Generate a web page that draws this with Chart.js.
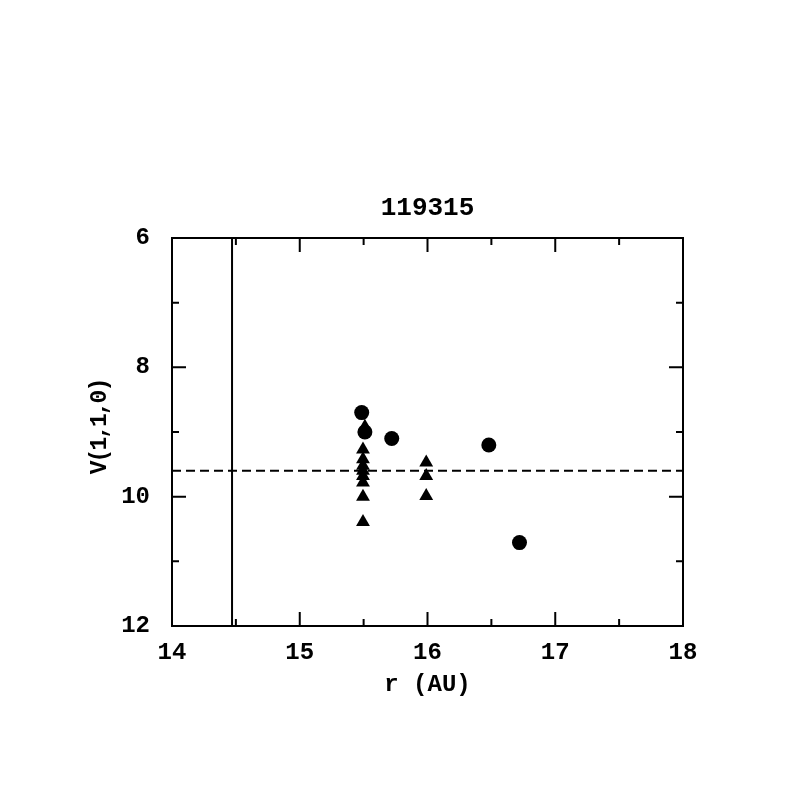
<!DOCTYPE html>
<html lang="en">
<head>
<meta charset="UTF-8">
<title>119315</title>
<script src="https://cdn.jsdelivr.net/npm/chart.js@4.4.0/dist/chart.umd.min.js"></script>
<style>
    body { margin: 0; background: #fff; }
    #wrap { width: 797px; height: 797px; }
</style>
</head>
<body>
<div id="wrap"><canvas id="plot" width="797" height="797"></canvas></div>
<script>
    const titleText = '119315';
    const xLabel = 'r (AU)';
    const yLabel = 'V(1,1,0)';

    // filled circles
    const circleX = [15.485, 15.51, 15.72, 16.48, 16.72];
    const circleY = [8.70, 9.00, 9.10, 9.20, 10.71];

    // filled triangles
    const triX = [15.51, 15.495, 15.495, 15.495, 15.495, 15.495, 15.495, 15.495, 15.495, 15.99, 15.99, 15.99];
    const triY = [8.92, 9.27, 9.42, 9.52, 9.60, 9.68, 9.78, 10.00, 10.39, 9.47, 9.68, 9.99];

    // reference lines
    const dashX = [14, 18];
    const dashY = [9.6, 9.6];
    const vertX = [14.47, 14.47];
    const vertY = [6, 12];

    const xRange = [14, 18];
    const yRange = [6, 12];

    const FONT = '"Liberation Mono", "DejaVu Sans Mono", monospace';

    function pts(xs, ys) {
        return xs.map((x, i) => ({x: x, y: ys[i]}));
    }

    // frame, inward ticks and the text around the plot
    const framePlugin = {
        id: 'frame',
        afterDraw(chart) {
            const ctx = chart.ctx;
            const xs = chart.scales.x, ys = chart.scales.y;
            const a = chart.chartArea;
            ctx.save();
            ctx.strokeStyle = '#000';
            ctx.lineWidth = 2;
            ctx.strokeRect(a.left, a.top, a.right - a.left, a.bottom - a.top);

            ctx.beginPath();
            for (let v = xRange[0]; v <= xRange[1] + 1e-9; v += 0.5) {
                const p = xs.getPixelForValue(v);
                const len = Number.isInteger(v) ? 14 : 7;
                ctx.moveTo(p, a.bottom); ctx.lineTo(p, a.bottom - len);
                ctx.moveTo(p, a.top); ctx.lineTo(p, a.top + len);
            }
            for (let v = yRange[0]; v <= yRange[1] + 1e-9; v += 1) {
                const p = ys.getPixelForValue(v);
                const len = v % 2 === 0 ? 14 : 7;
                ctx.moveTo(a.left, p); ctx.lineTo(a.left + len, p);
                ctx.moveTo(a.right, p); ctx.lineTo(a.right - len, p);
            }
            ctx.stroke();

            ctx.fillStyle = '#000';
            ctx.textAlign = 'center';
            ctx.textBaseline = 'middle';
            ctx.font = 'bold 26px ' + FONT;
            ctx.fillText(titleText, (a.left + a.right) / 2, 208);
            ctx.font = 'bold 24px ' + FONT;
            ctx.fillText(xLabel, (a.left + a.right) / 2, 685);
            ctx.translate(100, 427);
            ctx.rotate(-Math.PI / 2);
            ctx.font = 'bold 23px ' + FONT;
            ctx.letterSpacing = '-2px';
            ctx.fillText(yLabel, 0, 0);
            ctx.restore();
        }
    };

    new Chart(document.getElementById('plot'), {
        type: 'scatter',
        data: {
            datasets: [
                {
                    label: 'circles',
                    data: pts(circleX, circleY),
                    pointStyle: 'circle',
                    pointRadius: 7.5,
                    backgroundColor: '#000',
                    borderColor: '#000',
                    borderWidth: 0
                },
                {
                    label: 'triangles',
                    data: pts(triX, triY),
                    pointStyle: 'triangle',
                    pointRadius: 8,
                    backgroundColor: '#000',
                    borderColor: '#000',
                    borderWidth: 0
                },
                {
                    type: 'line',
                    label: 'dashed',
                    data: pts(dashX, dashY),
                    borderColor: '#000',
                    borderWidth: 2,
                    borderDash: [9, 5],
                    pointRadius: 0
                },
                {
                    type: 'line',
                    label: 'vertical',
                    data: pts(vertX, vertY),
                    borderColor: '#000',
                    borderWidth: 2,
                    pointRadius: 0
                }
            ]
        },
        options: {
            responsive: false,
            animation: false,
            layout: { padding: { left: 0, right: 114, top: 238, bottom: 0 } },
            plugins: {
                legend: { display: false },
                tooltip: { enabled: false }
            },
            scales: {
                x: {
                    type: 'linear',
                    min: xRange[0],
                    max: xRange[1],
                    grid: { display: false },
                    border: { display: false },
                    ticks: {
                        stepSize: 1,
                        padding: 5,
                        color: '#000',
                        font: { family: FONT, size: 24, weight: 'bold' }
                    },
                    afterFit(scale) { scale.height = 171; }
                },
                y: {
                    type: 'linear',
                    reverse: true,
                    min: yRange[0],
                    max: yRange[1],
                    grid: { display: false },
                    border: { display: false },
                    ticks: {
                        stepSize: 2,
                        padding: 14,
                        color: '#000',
                        font: { family: FONT, size: 24, weight: 'bold' }
                    },
                    afterFit(scale) { scale.width = 172; }
                }
            }
        },
        plugins: [framePlugin]
    });
</script>
</body>
</html>
